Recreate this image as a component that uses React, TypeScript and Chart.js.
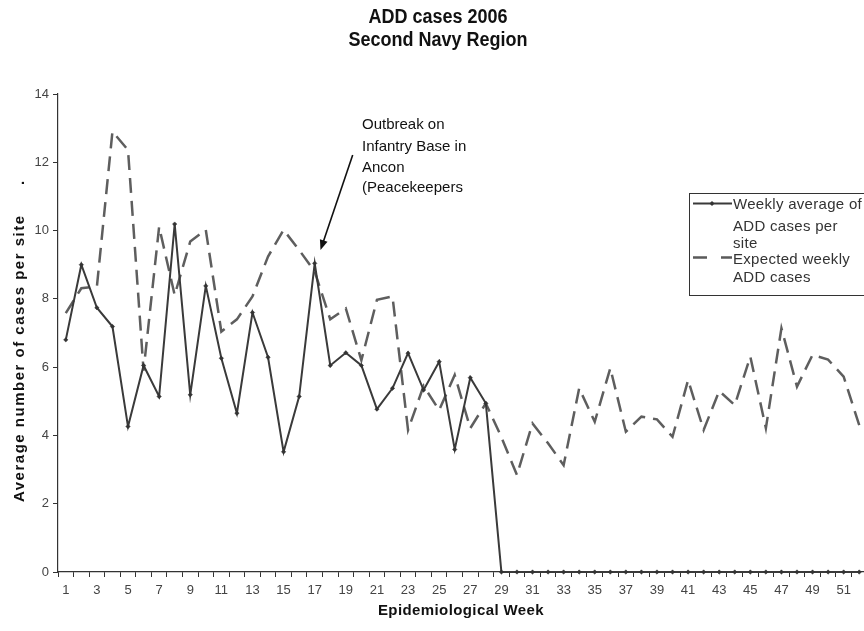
import React, { useEffect, useRef } from "react";
import { Chart, registerables } from "chart.js";

Chart.register(...registerables);

const weeks: string[] = Array.from({ length: 52 }, (_, i) => String(i + 1));

const weeklyAverage: number[] = [
  6.8, 9.0, 7.74, 7.19, 4.26, 6.05, 5.14, 10.19, 5.19, 8.38,
  6.26, 4.65, 7.6, 6.29, 3.52, 5.14, 9.04, 6.05, 6.42, 6.05,
  4.77, 5.38, 6.41, 5.33, 6.16, 3.59, 5.69, 4.94, 0, 0,
  0, 0, 0, 0, 0, 0, 0, 0, 0, 0,
  0, 0, 0, 0, 0, 0, 0, 0, 0, 0,
  0, 0,
];

const expectedWeekly: number[] = [
  7.58, 8.31, 8.36, 12.9, 12.36, 5.9, 10.11, 8.11, 9.68, 10.02,
  7.04, 7.4, 8.07, 9.24, 10.02, 9.43, 8.8, 7.4, 7.72, 6.2,
  7.97, 8.07, 4.16, 5.45, 4.74, 5.77, 4.21, 4.94, 3.95, 2.84,
  4.35, 3.77, 3.13, 5.38, 4.4, 5.97, 4.11, 4.55, 4.47, 3.96,
  5.62, 4.16, 5.3, 4.89, 6.31, 4.21, 7.14, 5.43, 6.36, 6.22,
  5.72, 4.3,
];

const yTicks: number[] = [0, 2, 4, 6, 8, 10, 12, 14];

const titleLines: string[] = ["ADD cases 2006", "Second Navy Region"];
const xTitle = "Epidemiological Week";
const yTitle = "Average number of cases per site";
const annotationLines: string[] = ["Outbreak on", "Infantry Base in", "Ancon", "(Peacekeepers"];
const legendSolid: string[] = ["Weekly average of", "ADD cases per", "site"];
const legendDashed: string[] = ["Expected weekly", "ADD cases"];

const FONT = "'Liberation Sans', Arial, sans-serif";

const textPlugin = {
  id: "textPlugin",
  afterDraw(chart: any) {
    const ctx: CanvasRenderingContext2D = chart.ctx;
    ctx.save();
    ctx.fillStyle = "#111";
    ctx.textBaseline = "alphabetic";

    // Title
    ctx.font = `bold 20px ${FONT}`;
    ctx.textAlign = "center";
    const tb = [22.5, 45.5];
    titleLines.forEach((t, i) => {
      ctx.save();
      ctx.translate(438, tb[i]);
      ctx.scale(0.9, 1);
      ctx.fillText(t, 0, 0);
      ctx.restore();
    });

    // X title
    ctx.font = `bold 15px ${FONT}`;
    (ctx as any).letterSpacing = "0.4px";
    ctx.fillText(xTitle, 461, 615);

    // Y title
    (ctx as any).letterSpacing = "1.5px";
    ctx.textAlign = "left";
    ctx.save();
    ctx.translate(24, 502);
    ctx.rotate(-Math.PI / 2);
    ctx.fillText(yTitle, 0, 0);
    ctx.fillText(".", 317, 0);
    ctx.restore();

    // Annotation
    (ctx as any).letterSpacing = "0px";
    ctx.font = `15px ${FONT}`;
    ctx.fillStyle = "#111";
    const ab = [129, 151, 172, 192];
    annotationLines.forEach((t, i) => ctx.fillText(t, 362, ab[i]));

    // Arrow
    const x0 = 352.7, y0 = 155, x1 = 320.5, y1 = 250;
    ctx.strokeStyle = "#111";
    ctx.lineWidth = 1.6;
    ctx.beginPath();
    ctx.moveTo(x0, y0);
    ctx.lineTo(x1 + 2.2, y1 - 6.5);
    ctx.stroke();
    const ang = Math.atan2(y1 - y0, x1 - x0);
    const hl = 10, hw = 4;
    ctx.beginPath();
    ctx.moveTo(x1, y1);
    ctx.lineTo(x1 - hl * Math.cos(ang) + hw * Math.sin(ang), y1 - hl * Math.sin(ang) - hw * Math.cos(ang));
    ctx.lineTo(x1 - hl * Math.cos(ang) - hw * Math.sin(ang), y1 - hl * Math.sin(ang) + hw * Math.cos(ang));
    ctx.closePath();
    ctx.fillStyle = "#111";
    ctx.fill();

    // Legend
    ctx.fillStyle = "#fff";
    ctx.fillRect(689, 193, 220, 102);
    ctx.strokeStyle = "#333";
    ctx.lineWidth = 1;
    ctx.strokeRect(689.5, 193.5, 220, 102);
    ctx.strokeStyle = "#3a3a3a";
    ctx.lineWidth = 2;
    ctx.beginPath();
    ctx.moveTo(693, 203.5);
    ctx.lineTo(732, 203.5);
    ctx.stroke();
    ctx.fillStyle = "#333";
    ctx.beginPath();
    ctx.moveTo(712, 201);
    ctx.lineTo(714.5, 203.5);
    ctx.lineTo(712, 206);
    ctx.lineTo(709.5, 203.5);
    ctx.closePath();
    ctx.fill();
    ctx.strokeStyle = "#5a5a5a";
    ctx.lineWidth = 2.5;
    ctx.beginPath();
    ctx.moveTo(693, 257.5);
    ctx.lineTo(707, 257.5);
    ctx.moveTo(721, 257.5);
    ctx.lineTo(732, 257.5);
    ctx.stroke();
    ctx.fillStyle = "#333";
    ctx.font = `15px ${FONT}`;
    (ctx as any).letterSpacing = "0.3px";
    const lb1 = [209, 231, 248];
    legendSolid.forEach((t, i) => ctx.fillText(t, 733, lb1[i]));
    const lb2 = [264, 282];
    legendDashed.forEach((t, i) => ctx.fillText(t, 733, lb2[i]));
    (ctx as any).letterSpacing = "0px";
    ctx.restore();
  },
};

export default function App() {
  const ref = useRef<HTMLCanvasElement | null>(null);

  useEffect(() => {
    if (!ref.current) return;
    const chart = new Chart(ref.current, {
      type: "line",
      data: {
        labels: weeks,
        datasets: [
          {
            label: "Weekly average of ADD cases per site",
            data: weeklyAverage,
            borderColor: "#3a3a3a",
            borderWidth: 2,
            pointRadius: 2.2,
            pointStyle: "rectRot",
            pointBackgroundColor: "#333",
            pointBorderColor: "#333",
            pointBorderWidth: 0.5,
            tension: 0,
            clip: false,
          },
          {
            label: "Expected weekly ADD cases",
            data: expectedWeekly,
            borderColor: "#5e5e5e",
            borderWidth: 2.5,
            borderDash: [15, 8],
            pointRadius: 0,
            tension: 0,
            clip: false,
          },
        ],
      },
      options: {
        animation: false,
        responsive: false,
        events: [],
        layout: { padding: { top: 94, right: 33, left: 0, bottom: 0 } },
        plugins: {
          legend: { display: false },
          title: { display: false },
          tooltip: { enabled: false },
        },
        scales: {
          x: {
            type: "category",
            offset: true,
            grid: {
              offset: true,
              drawOnChartArea: false,
              drawTicks: true,
              tickLength: 5,
              color: "#333",
            },
            border: { color: "#333", width: 1.2 },
            ticks: {
              autoSkip: false,
              maxRotation: 0,
              minRotation: 0,
              padding: 6,
              color: "#444",
              font: { family: FONT, size: 13 },
              callback: (_v: any, i: number) => (i % 2 === 0 ? weeks[i] : ""),
            },
            afterFit: (scale: any) => {
              scale.height = 59;
            },
          },
          y: {
            min: 0,
            max: 14,
            afterBuildTicks: (scale: any) => {
              scale.ticks = yTicks.map((v) => ({ value: v }));
            },
            grid: {
              drawOnChartArea: false,
              drawTicks: true,
              tickLength: 5,
              color: "#333",
            },
            border: { color: "#333", width: 1.2 },
            ticks: {
              padding: 4,
              color: "#444",
              font: { family: FONT, size: 13 },
            },
            afterFit: (scale: any) => {
              scale.width = 58;
            },
          },
        },
      },
      plugins: [textPlugin],
    });
    return () => chart.destroy();
  }, []);

  return (
    <div
      style={{
        position: "fixed",
        left: 0,
        top: 0,
        width: 864,
        height: 631,
        overflow: "hidden",
        background: "#fff",
      }}
    >
      <canvas ref={ref} width={900} height={631} style={{ width: 900, height: 631, display: "block" }} />
    </div>
  );
}
